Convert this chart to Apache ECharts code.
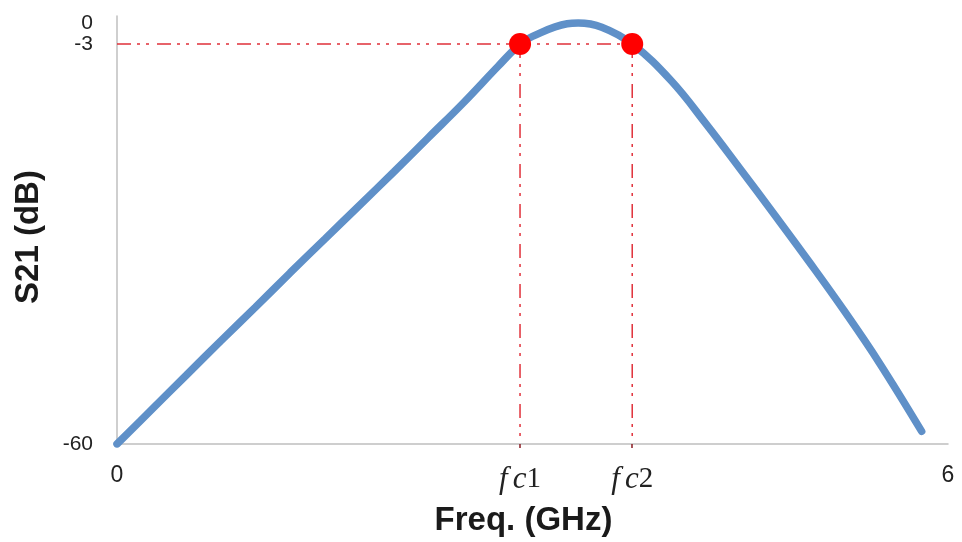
<!DOCTYPE html>
<html>
<head>
<meta charset="utf-8">
<script src="https://cdn.jsdelivr.net/npm/echarts@6/dist/echarts.min.js"></script>
<style>html,body{margin:0;padding:0;background:#fff;}#c{width:962px;height:542px;}</style>
</head>
<body>
<div id="c"></div>
<script>
const freq = [0, 0.25, 0.5, 0.75, 1.0, 1.25, 1.5, 1.75, 2.0, 2.25, 2.5, 2.75, 2.91, 3.0, 3.25, 3.33, 3.5, 3.72, 4.0, 4.25, 4.5, 4.75, 5.0, 5.25, 5.5, 5.81];
const s21  = [-60, -55.1, -50.2, -45.3, -40.5, -35.6, -30.8, -26.0, -21.2, -16.3, -11.4, -6.2, -3, -1.9, -0.1, 0, -0.6, -3, -8.2, -14.3, -20.8, -27.4, -34.1, -41.0, -48.3, -58.2];
const fc1 = 2.91, fc2 = 3.72;
const cutoffLevel = -3;
const yTicks = [-60, -3, 0];
const xTicks = [0, fc1, fc2, 6];
const xTickLabels = ['0', 'fc1', 'fc2', '6'];

const chart = echarts.init(document.getElementById('c'), null, {renderer: 'canvas'});
const dashRed = {color: '#e0303a', width: 1.5, type: [14, 6, 3, 6, 3, 8]};
chart.setOption({
  animation: false,
  backgroundColor: '#fff',
  grid: {left: 117, right: 14, top: 16, bottom: 96, containLabel: false},
  xAxis: {
    type: 'value', min: 0, max: 6,
    name: 'Freq. (GHz)', nameLocation: 'middle', nameGap: 60,
    nameTextStyle: {fontFamily: 'Liberation Sans', fontWeight: 'bold', fontSize: 33, color: '#1a1a1a', padding: [0, 18, 0, 0]},
    axisLine: {onZero: false, lineStyle: {color: '#bfbfbf', width: 1.5}},
    axisTick: {show: true, customValues: [fc1, fc2], length: 4, lineStyle: {color: '#8a1a22', width: 1.5}},
    splitLine: {show: false},
    axisLabel: {
      customValues: xTicks, margin: 20, hideOverlap: false, showMinLabel: true, showMaxLabel: true,
      fontFamily: 'Liberation Sans', fontSize: 23, color: '#222',
      formatter: function (v) {
        const i = xTicks.indexOf(v);
        const t = i >= 0 ? xTickLabels[i] : '';
        if (t.indexOf('fc') === 0) return '{i|f}{sp| }{i|c}{n|' + t.slice(2) + '}';
        return t;
      },
      rich: {
        i: {fontFamily: 'Liberation Serif', fontStyle: 'italic', fontSize: 31, color: '#222'},
        sp: {fontFamily: 'Liberation Serif', fontSize: 20},
        n: {fontFamily: 'Liberation Serif', fontSize: 29, color: '#222'}
      }
    }
  },
  yAxis: {
    type: 'value', min: -60, max: 1,
    name: 'S21 (dB)', nameLocation: 'middle', nameGap: 72, nameRotate: 90,
    nameTextStyle: {fontFamily: 'Liberation Sans', fontWeight: 'bold', fontSize: 33, color: '#1a1a1a', padding: [0, 14, 0, 0]},
    axisLine: {show: true, lineStyle: {color: '#bfbfbf', width: 1.5}},
    axisTick: {show: false},
    splitLine: {show: false},
    axisLabel: {customValues: yTicks, margin: 24, hideOverlap: false, showMinLabel: true, showMaxLabel: true,
      fontFamily: 'Liberation Sans', fontSize: 21, lineHeight: 20, color: '#222'}
  },
  series: [
    {type: 'line', data: [[0, cutoffLevel], [fc2, cutoffLevel]], symbol: 'none', lineStyle: dashRed, z: 1},
    {type: 'line', data: [[fc1, cutoffLevel], [fc1, -60]], symbol: 'none', lineStyle: dashRed, z: 1},
    {type: 'line', data: [[fc2, cutoffLevel], [fc2, -60]], symbol: 'none', lineStyle: dashRed, z: 1},
    {type: 'line', data: freq.map((f, i) => [f, s21[i]]), smooth: 0.4, symbol: 'none',
     lineStyle: {color: '#5f90c8', width: 7.5, cap: 'round'}, z: 2},
    {type: 'scatter', data: [[fc1, cutoffLevel], [fc2, cutoffLevel]], symbolSize: 22,
     itemStyle: {color: '#ff0000', opacity: 1}, z: 3}
  ]
});
</script>
</body>
</html>
